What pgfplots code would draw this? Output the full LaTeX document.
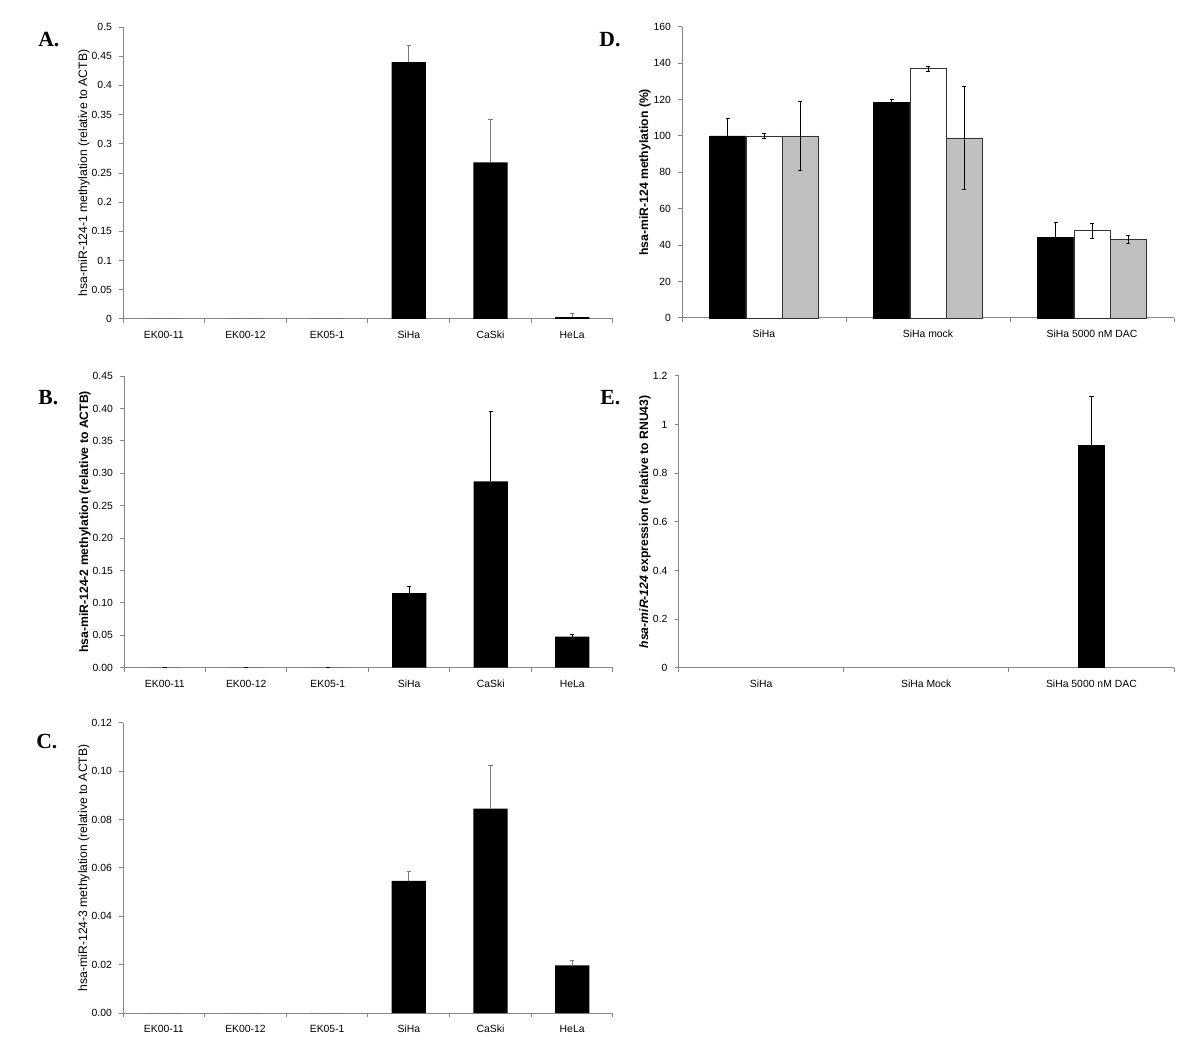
\documentclass[border=0pt]{standalone}
\usepackage{fontspec}
\setmainfont{Liberation Sans}
\newfontfamily\letterfont{Liberation Serif}
\usepackage{pgfplots}
\usepackage{pgfplotstable}
\pgfplotsset{compat=1.18}

\definecolor{axisgrey}{HTML}{868686}
\definecolor{bargrey}{HTML}{C0C0C0}
\definecolor{errgrey}{HTML}{7A7A7A}

% data: category, value, error
\pgfplotstableread{
x y e
1 0 0
2 0 0
3 0 0
4 0.440 0.029
5 0.268 0.073
6 0.003 0.007
}\panelA
\pgfplotstableread{
x y e
1 0 0
2 0 0
3 0 0
4 0.115 0.011
5 0.2875 0.1075
6 0.048 0.0035
}\panelB
\pgfplotstableread{
x y e
1 0 0
2 0 0
3 0 0
4 0.0546 0.0039
5 0.0845 0.0179
6 0.0197 0.0018
}\panelC
\pgfplotstableread{
x black eb white ew grey eg
1 100   9.7 100  1.4 100  19.0
2 118.5 1.3 137  1.4 98.9 28.4
3 44.3  8.0 47.9 4.2 43.3 2.2
}\panelD
\pgfplotstableread{
x y e
3 0.9175 0.199
}\panelE

\pgfplotsset{
  excel/.style={
    scale only axis, anchor=south west,
    axis x line*=bottom, axis y line*=left,
    axis line style={axisgrey, line width=0.5pt},
    ymin=0, xmin=0.5,
    tick align=outside,
    major tick length=2pt, minor tick length=2pt,
    ytick style={axisgrey, line width=0.5pt},
    major x tick style={draw=none},
    minor x tick style={axisgrey, line width=0.5pt},
    tick label style={font=\fontsize{5.2}{6}\selectfont},
    xticklabel style={yshift=4.3pt, text height=1.6ex, text depth=0.3ex},
    /pgf/number format/assume math mode=true,
    label style={font=\fontsize{6.1}{7}\selectfont},
    ylabel style={anchor=center},
    clip=false,
  },
  six/.style={
    xmax=6.5, xtick={1,...,6},
    xticklabels={EK00-11,EK00-12,EK05-1,SiHa,CaSki,HeLa},
    minor xtick={0.5,1.5,...,6.5},
    ylabel style={at={(axis description cs:-0.0796,0.5)}},
  },
  blackbar/.style={ybar, bar width=0.42, fill=black, draw=none},
  derr/.style={error bars/.cd, y dir=both, y explicit,
    error bar style={black, line width=0.5pt},
    error mark options={rotate=90, black, mark size=1.1pt, line width=0.5pt}},
}

\begin{document}
\begin{tikzpicture}
\path[use as bounding box] (0,0) rectangle (600pt,531pt);

% A
\begin{axis}[excel, six, at={(61.5pt,371.5pt)}, width=245pt, height=146pt,
  ymax=0.5, ytick={0,0.05,...,0.5},
  yticklabel style={/pgf/number format/fixed},
  ylabel={hsa-miR-124-1 methylation (relative to ACTB)}]
\addplot[blackbar, error bars/.cd, y dir=plus, y explicit,
  error bar style={errgrey, line width=0.5pt},
  error mark options={rotate=90, errgrey, mark size=1.1pt, line width=0.5pt}]
  table[x=x, y=y, y error=e] {\panelA};
\end{axis}

% B
\begin{axis}[excel, six, at={(62pt,197.15pt)}, width=244.5pt, height=145.85pt,
  ymax=0.45, ytick={0,0.05,...,0.46},
  yticklabel style={/pgf/number format/.cd, fixed, fixed zerofill, precision=2},
  ylabel={\bfseries hsa-miR-124-2 methylation (relative to ACTB)}]
\addplot[blackbar, error bars/.cd, y dir=plus, y explicit,
  error bar style={black, line width=0.5pt},
  error mark options={rotate=90, black, mark size=1.1pt, line width=0.5pt}]
  table[x=x, y=y, y error=e] {\panelB};
\end{axis}

% C
\begin{axis}[excel, six, at={(61.5pt,24.5pt)}, width=245pt, height=145.15pt,
  ymax=0.12, ytick={0,0.02,...,0.121},
  yticklabel style={/pgf/number format/.cd, fixed, fixed zerofill, precision=2},
  ylabel={hsa-miR-124-3 methylation (relative to ACTB)}]
\addplot[blackbar, error bars/.cd, y dir=plus, y explicit,
  error bar style={errgrey, line width=0.5pt},
  error mark options={rotate=90, errgrey, mark size=1.1pt, line width=0.5pt}]
  table[x=x, y=y, y error=e] {\panelC};
\end{axis}

% D
\begin{axis}[excel, at={(341pt,372pt)}, width=246pt, height=145.65pt,
  xmax=3.5, xtick={1,2,3}, xticklabels={SiHa,SiHa mock,SiHa 5000 nM DAC},
  minor xtick={0.5,1.5,2.5,3.5},
  ymax=160, ytick={0,20,...,160},
  ylabel style={at={(axis description cs:-0.0752,0.5)}},
  ylabel={\bfseries hsa-miR-124 methylation (\%)}]
\addplot[ybar, bar width=0.22, bar shift=0, fill=black, draw=black, line width=0.4pt, derr]
  table[x expr=\thisrow{x}-0.22, y=black, y error=eb] {\panelD};
\addplot[ybar, bar width=0.22, bar shift=0, fill=white, draw=black!80, line width=0.4pt, derr]
  table[x=x, y=white, y error=ew] {\panelD};
\addplot[ybar, bar width=0.22, bar shift=0, fill=bargrey, draw=black!80, line width=0.4pt, derr]
  table[x expr=\thisrow{x}+0.22, y=grey, y error=eg] {\panelD};
\end{axis}

% E
\begin{axis}[excel, at={(339.25pt,197.15pt)}, width=247.75pt, height=145.85pt,
  xmax=3.5, xtick={1,2,3}, xticklabels={SiHa,SiHa Mock,SiHa 5000 nM DAC},
  minor xtick={0.5,1.5,2.5,3.5},
  ymax=1.2, ytick={0,0.2,...,1.21},
  yticklabel style={/pgf/number format/fixed},
  ylabel style={at={(axis description cs:-0.0676,0.5)}},
  ylabel={\bfseries{\itshape hsa-miR-124} expression (relative to RNU43)}]
\addplot[ybar, bar width=0.165, fill=black, draw=none,
  error bars/.cd, y dir=plus, y explicit,
  error bar style={black, line width=0.5pt},
  error mark options={rotate=90, black, mark size=1.1pt, line width=0.5pt}]
  table[x=x, y=y, y error=e] {\panelE};
\end{axis}

% panel letters
\begin{scope}[every node/.style={anchor=base west, inner sep=0pt,
    font=\letterfont\bfseries\fontsize{10.8}{12}\selectfont}]
\node at (19pt,507.5pt) {A.};
\node at (299.5pt,507.5pt) {D.};
\node at (19pt,328.5pt) {B.};
\node at (300pt,328.5pt) {E.};
\node at (18pt,157pt) {C.};
\end{scope}
\end{tikzpicture}
\end{document}
